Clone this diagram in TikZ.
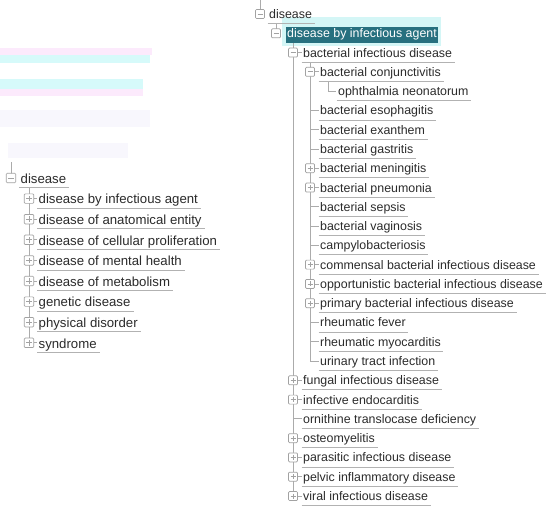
\documentclass[tikz,border=0pt]{standalone}
\usepackage{fontspec}
\setmainfont{Liberation Sans}
\definecolor{txt}{HTML}{2B2B2B}
\definecolor{ln}{HTML}{ABABAB}
\definecolor{ulc}{HTML}{B2B2B2}
\definecolor{bxc}{HTML}{A2A2A2}
\definecolor{hl}{HTML}{27707F}
\definecolor{glow}{HTML}{D4F6F6}
\definecolor{pinkband}{HTML}{FCEAFC}
\definecolor{cyanband}{HTML}{D6FAFA}
\definecolor{faint}{HTML}{F8F7FD}
\newcommand\Rfont{\fontsize{12.4}{14}\selectfont}
\newcommand\Lfont{\fontsize{13.2}{15}\selectfont}
\tikzset{
  lbl/.style={anchor=base west, inner sep=0pt, text=txt},
  treeline/.style={draw=ln, line width=0.8pt},
  uline/.style={draw=ulc, line width=0.8pt},
  expm/.style={draw=bxc, fill=white, rounded corners=1pt, minimum size=#1, inner sep=0pt, line width=0.7pt,
    path picture={\draw[bxc, line width=0.8pt] ([xshift=2pt]path picture bounding box.west) -- ([xshift=-2pt]path picture bounding box.east);}},
  expp/.style={draw=bxc, fill=white, rounded corners=1pt, minimum size=#1, inner sep=0pt, line width=0.7pt,
    path picture={\draw[bxc, line width=0.8pt] ([xshift=2pt]path picture bounding box.west) -- ([xshift=-2pt]path picture bounding box.east);
      \draw[bxc, line width=0.8pt] ([yshift=-2pt]path picture bounding box.north) -- ([yshift=2pt]path picture bounding box.south);}},
}
\begin{document}
\begin{tikzpicture}[x=1pt,y=-1pt]
\useasboundingbox (0,0) rectangle (550,512);
\fill[white] (0,0) rectangle (550,512);
% faint background ghosts
\fill[pinkband] (0,48) rectangle (152,55);
\fill[cyanband] (0,55) rectangle (150,63);
\fill[cyanband] (0,79) rectangle (143,89);
\fill[pinkband] (0,89) rectangle (143,96);
\fill[faint] (0,110) rectangle (150,127);
\fill[faint] (8,143) rectangle (128,158);

% ================= LEFT TREE =================
\draw[treeline] (11,162) -- (11,178);
\draw[treeline] (29,188) -- (29,342.8);
\node[lbl, font=\Lfont] (l0) at (20.5,183.3) {disease};
\draw[uline] ([xshift=-1.5pt,yshift=-4.2pt]l0.base west) -- ([xshift=3pt,yshift=-4.2pt]l0.base east);
\node[expm=9.5pt] (lb0) at (11,178) {};
\foreach \i/\t in {1/disease by infectious agent, 2/disease of anatomical entity, 3/disease of cellular proliferation,
  4/disease of mental health, 5/disease of metabolism, 6/genetic disease, 7/physical disorder, 8/syndrome}{
  \pgfmathsetmacro\ry{178+20.6*\i}
  \draw[treeline] (29,\ry) -- (37,\ry);
  \node[lbl, font=\Lfont] (l\i) at (38.5,\ry+5.3) {\t};
  \draw[uline] ([xshift=-1.5pt,yshift=-4.2pt]l\i.base west) -- ([xshift=3pt,yshift=-4.2pt]l\i.base east);
  \node[expp=9.5pt] (lb\i) at (29,\ry) {};
}

% ================= RIGHT TREE =================
\fill[glow] (282,17) rectangle (441,46);
\draw[treeline] (260,0) -- (260,14);
\draw[treeline] (276,23.5) -- (276,33.3);
\draw[treeline] (293,43) -- (293,496);
\draw[treeline] (310,63) -- (310,361);
\draw[treeline] (328,82) -- (328,91) -- (336,91);

% highlighted row
\node[anchor=base west, fill=hl, text=white, font=\Rfont, inner xsep=1.5pt, inner ysep=1.8pt,
  text height=9pt, text depth=3pt] (r1) at (285.5,37.8) {disease by infectious agent};
\node[expm=9pt] (b1) at (276,33.3) {};

\foreach \i/\lv/\s/\t in {
 0/0/1/disease,
 2/2/1/bacterial infectious disease,
 3/3/1/bacterial conjunctivitis,
 4/4/0/ophthalmia neonatorum,
 5/3/0/bacterial esophagitis,
 6/3/0/bacterial exanthem,
 7/3/0/bacterial gastritis,
 8/3/2/bacterial meningitis,
 9/3/2/bacterial pneumonia,
 10/3/0/bacterial sepsis,
 11/3/0/bacterial vaginosis,
 12/3/0/campylobacteriosis,
 13/3/2/commensal bacterial infectious disease,
 14/3/2/opportunistic bacterial infectious disease,
 15/3/2/primary bacterial infectious disease,
 16/3/0/rheumatic fever,
 17/3/0/rheumatic myocarditis,
 18/3/0/urinary tract infection,
 19/2/2/fungal infectious disease,
 20/2/2/infective endocarditis,
 21/2/0/ornithine translocase deficiency,
 22/2/2/osteomyelitis,
 23/2/2/parasitic infectious disease,
 24/2/2/pelvic inflammatory disease,
 25/2/2/viral infectious disease}{
  \pgfmathsetmacro\bx{{260,276,293,310,328}[\lv]}
  \pgfmathsetmacro\tx{{269,287,303,320,338}[\lv]}
  \pgfmathsetmacro\ry{14+19.28*\i}
  \ifnum\lv>0 \ifnum\lv<4 \draw[treeline] (\bx,\ry) -- (\tx-1.5,\ry); \fi\fi
  \node[lbl, font=\Rfont] (r\i) at (\tx,\ry+4.5) {\t};
  \draw[uline] ([xshift=-1.5pt,yshift=-5pt]r\i.base west) -- ([xshift=2.5pt,yshift=-5pt]r\i.base east);
  \ifcase\s\or \node[expm=9pt] (b\i) at (\bx,\ry) {};\or \node[expp=9pt] (b\i) at (\bx,\ry) {};\fi
}
\end{tikzpicture}
\end{document}
